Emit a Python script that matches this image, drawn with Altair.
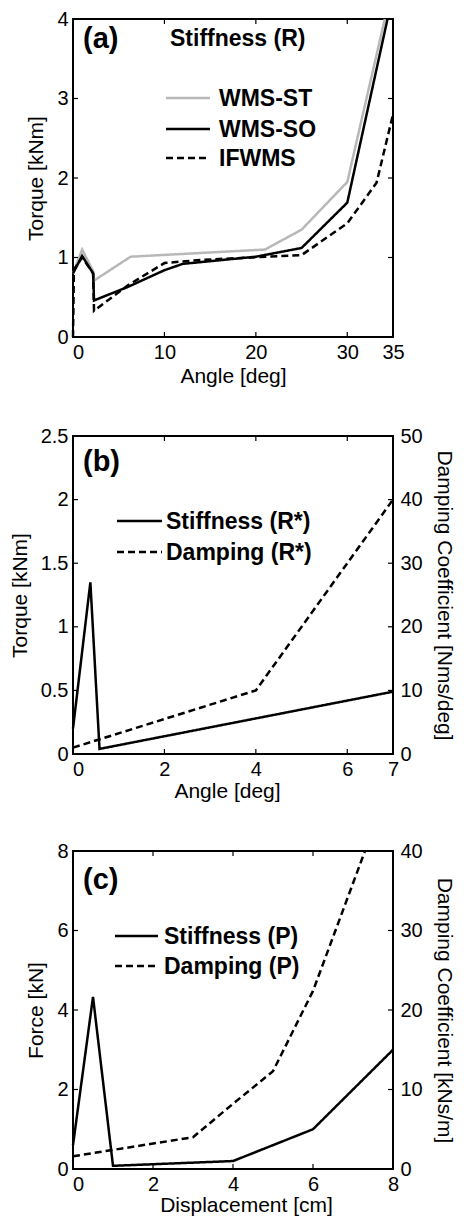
import altair as alt
import pandas as pd

FONT = "Liberation Sans"
W, H = 320, 318

# ---------------- data ----------------
# Panel (a): Stiffness (R)
a_series = ["WMS-ST", "WMS-SO", "IFWMS"]
a_st_x = [0, 1, 2.2, 2.3, 6.3, 21, 25, 30, 34.1]
a_st_y = [0.8, 1.1, 0.83, 0.71, 1.01, 1.1, 1.35, 1.95, 4.0]
a_so_x = [0, 1, 2.2, 2.3, 6, 10, 12, 20, 25, 30, 34.4]
a_so_y = [0.8, 1.02, 0.8, 0.46, 0.63, 0.84, 0.92, 1.01, 1.12, 1.69, 4.0]
a_if_x = [0, 0.1, 1, 2.2, 2.3, 6, 10, 14, 25, 30, 33.2, 35]
a_if_y = [0, 0.85, 1.0, 0.8, 0.33, 0.65, 0.93, 0.97, 1.03, 1.43, 1.94, 2.8]

# Panel (b): Stiffness / Damping (R*)
b_series = ["Stiffness (R*)", "Damping (R*)"]
b_st_x = [0, 0.38, 0.58, 7]
b_st_y = [0.2, 1.35, 0.04, 0.49]
b_dm_x = [0, 4, 7]
b_dm_y = [1.0, 10, 40]

# Panel (c): Stiffness / Damping (P)
c_series = ["Stiffness (P)", "Damping (P)"]
c_st_x = [0, 0.5, 1, 4, 6, 8]
c_st_y = [0.6, 4.33, 0.08, 0.2, 1.0, 3.0]
c_dm_x = [0, 3, 4, 5, 6, 7.3]
c_dm_y = [1.6, 4.0, 8.2, 12.3, 22.4, 40]

# tick values
a_xt = [0, 10, 20, 30, 35]
a_yt = [0, 1, 2, 3, 4]
b_xt = [0, 2, 4, 6, 7]
b_yt = [0, 0.5, 1, 1.5, 2, 2.5]
b_rt = [0, 10, 20, 30, 40, 50]
c_xt = [0, 2, 4, 6, 8]
c_yt = [0, 2, 4, 6, 8]
c_rt = [0, 10, 20, 30, 40]

SOLID, DASH = [1, 0], [7, 4]


def frame(name, xs, ys):
    return pd.DataFrame({"x": xs, "y": ys, "series": name})


ZERO_OFF = {"condition": {"test": "datum.value === 0", "value": 5}, "value": 0}
FMT = ".3~g"


def xaxis(title, vals, tpad, tx=None):
    kw = dict(values=vals, title=title, format=FMT, labelOffset=ZERO_OFF,
              labelFlush=False, titlePadding=tpad)
    if tx is not None:
        kw["titleX"] = tx
    return alt.Axis(**kw)


def yaxis(title, vals):
    return alt.Axis(values=vals, title=title, format=FMT, titlePadding=10, labelPadding=5)


def raxis(title, vals):
    return alt.Axis(orient="right", values=vals, title=title, format=FMT,
                    labelPadding=7, titlePadding=11)


def ticks(xs, ys, xscale, yscale, xax, yax):
    dx = pd.DataFrame({"x": xs})
    dy = pd.DataFrame({"y": ys})
    rx = alt.Chart(dx).mark_rule(color="black", strokeWidth=1.2)
    ry = alt.Chart(dy).mark_rule(color="black", strokeWidth=1.2)
    X = alt.X("x:Q", scale=xscale, axis=xax)
    Y = alt.Y("y:Q", scale=yscale, axis=yax)
    return [
        rx.encode(x=X, y=alt.value(H), y2=alt.value(H - 5)),
        rx.encode(x=X, y=alt.value(0), y2=alt.value(5)),
        ry.encode(y=Y, x=alt.value(0), x2=alt.value(5)),
        ry.encode(y=Y, x=alt.value(W - 5), x2=alt.value(W)),
    ]


def text_mark(label, x, y, size, align="left"):
    return alt.Chart(pd.DataFrame({"t": [label]})).mark_text(
        align=align, baseline="middle", font=FONT, fontSize=size,
        fontWeight="bold", color="black"
    ).encode(x=alt.value(x), y=alt.value(y), text="t:N")


def legend_layers(names, colors, dashes, x0, rows, length, gap):
    out = []
    for name, col, dsh, yc in zip(names, colors, dashes, rows):
        d = pd.DataFrame({"series": [name]})
        out.append(alt.Chart(d).mark_rule(color=col, strokeWidth=2.5, strokeDash=dsh).encode(
            x=alt.value(x0), x2=alt.value(x0 + length), y=alt.value(yc)))
        out.append(alt.Chart(d).mark_text(
            align="left", baseline="middle", font=FONT, fontSize=23,
            fontWeight="bold", color="black", dy=1
        ).encode(x=alt.value(x0 + length + gap), y=alt.value(yc), text="series:N"))
    return out


def series_enc(names, colors, dashes):
    col = alt.Color("series:N", scale=alt.Scale(domain=names, range=colors), legend=None)
    dsh = alt.StrokeDash("series:N", scale=alt.Scale(domain=names, range=dashes), legend=None)
    return col, dsh


# ---------------- panel (a) ----------------
a_df = pd.concat([
    frame(a_series[0], a_st_x, a_st_y),
    frame(a_series[1], a_so_x, a_so_y),
    frame(a_series[2], a_if_x, a_if_y),
])
a_colors = ["#b8b8b8", "black", "black"]
a_dashes = [SOLID, SOLID, DASH]
a_xs = alt.Scale(domain=[0, 35], nice=False, zero=False)
a_ys = alt.Scale(domain=[0, 4], nice=False)
a_xa = xaxis("Angle [deg]", a_xt, 3)
a_ya = yaxis("Torque [kNm]", a_yt)
a_col, a_dash = series_enc(a_series, a_colors, a_dashes)
a_line = alt.Chart(a_df).mark_line(strokeWidth=2.5).encode(
    x=alt.X("x:Q", scale=a_xs, axis=a_xa),
    y=alt.Y("y:Q", scale=a_ys, axis=a_ya),
    color=a_col, strokeDash=a_dash,
)
panel_a = alt.layer(
    a_line, *ticks(a_xt, a_yt, a_xs, a_ys, a_xa, a_ya),
    text_mark("(a)", 10, 20, 29),
    text_mark("Stiffness (R)", 97, 20, 23),
    *legend_layers(a_series, a_colors, a_dashes, 93, [79, 110, 139], 44, 9),
).properties(width=W, height=H)

# ---------------- panel (b) ----------------
b_colors = ["black", "black"]
b_dashes = [SOLID, DASH]
b_xs = alt.Scale(domain=[0, 7], nice=False, zero=False)
b_ys = alt.Scale(domain=[0, 2.5], nice=False)
b_rs = alt.Scale(domain=[0, 50], nice=False)
b_xa = xaxis("Angle [deg]", b_xt, 1, W / 2 - 6)
b_ya = yaxis("Torque [kNm]", b_yt)
b_col, b_dash = series_enc(b_series, b_colors, b_dashes)
b_left = alt.Chart(frame(b_series[0], b_st_x, b_st_y)).mark_line(strokeWidth=2.5).encode(
    x=alt.X("x:Q", scale=b_xs, axis=b_xa),
    y=alt.Y("y:Q", scale=b_ys, axis=b_ya),
    color=b_col, strokeDash=b_dash,
)
b_right = alt.Chart(frame(b_series[1], b_dm_x, b_dm_y)).mark_line(strokeWidth=2.5).encode(
    x=alt.X("x:Q", scale=b_xs, axis=b_xa),
    y=alt.Y("y:Q", scale=b_rs, axis=raxis("Damping Coefficient [Nms/deg]", b_rt)),
    color=b_col, strokeDash=b_dash,
)
panel_b = alt.layer(
    alt.layer(
        b_left, *ticks(b_xt, b_yt, b_xs, b_ys, b_xa, b_ya),
        text_mark("(b)", 10, 26, 29),
        *legend_layers(b_series, b_colors, b_dashes, 44, [85, 116], 45, 4),
    ),
    b_right,
).resolve_scale(y="independent").properties(width=W, height=H)

# ---------------- panel (c) ----------------
c_colors = ["black", "black"]
c_dashes = [SOLID, DASH]
c_xs = alt.Scale(domain=[0, 8], nice=False, zero=False)
c_ys = alt.Scale(domain=[0, 8], nice=False)
c_rs = alt.Scale(domain=[0, 40], nice=False)
c_xa = xaxis("Displacement [cm]", c_xt, 0, W / 2 + 13)
c_ya = yaxis("Force [kN]", c_yt)
c_col, c_dash = series_enc(c_series, c_colors, c_dashes)
c_left = alt.Chart(frame(c_series[0], c_st_x, c_st_y)).mark_line(strokeWidth=2.5).encode(
    x=alt.X("x:Q", scale=c_xs, axis=c_xa),
    y=alt.Y("y:Q", scale=c_ys, axis=c_ya),
    color=c_col, strokeDash=c_dash,
)
c_right = alt.Chart(frame(c_series[1], c_dm_x, c_dm_y)).mark_line(strokeWidth=2.5).encode(
    x=alt.X("x:Q", scale=c_xs, axis=c_xa),
    y=alt.Y("y:Q", scale=c_rs, axis=raxis("Damping Coefficient [kNs/m]", c_rt)),
    color=c_col, strokeDash=c_dash,
)
panel_c = alt.layer(
    alt.layer(
        c_left, *ticks(c_xt, c_yt, c_xs, c_ys, c_xa, c_ya),
        text_mark("(c)", 10, 29, 29),
        *legend_layers(c_series, c_colors, c_dashes, 42, [85, 115], 43, 6),
    ),
    c_right,
).resolve_scale(y="independent").properties(width=W, height=H)

chart = alt.vconcat(panel_a, panel_b, panel_c, spacing=38).resolve_scale(
    color="independent", strokeDash="independent"
).properties(
    padding={"left": 0, "top": 0, "right": 0, "bottom": 0}, background="white"
).configure_view(
    stroke="black", strokeWidth=2
).configure_axis(
    labelFont=FONT, labelFontSize=20, labelColor="black",
    titleFont=FONT, titleFontSize=21, titleFontWeight="normal", titleColor="black",
    ticks=False, domain=False, grid=False, labelPadding=5,
)

chart.save("out.html", embed_options={"renderer": "svg", "actions": False})
